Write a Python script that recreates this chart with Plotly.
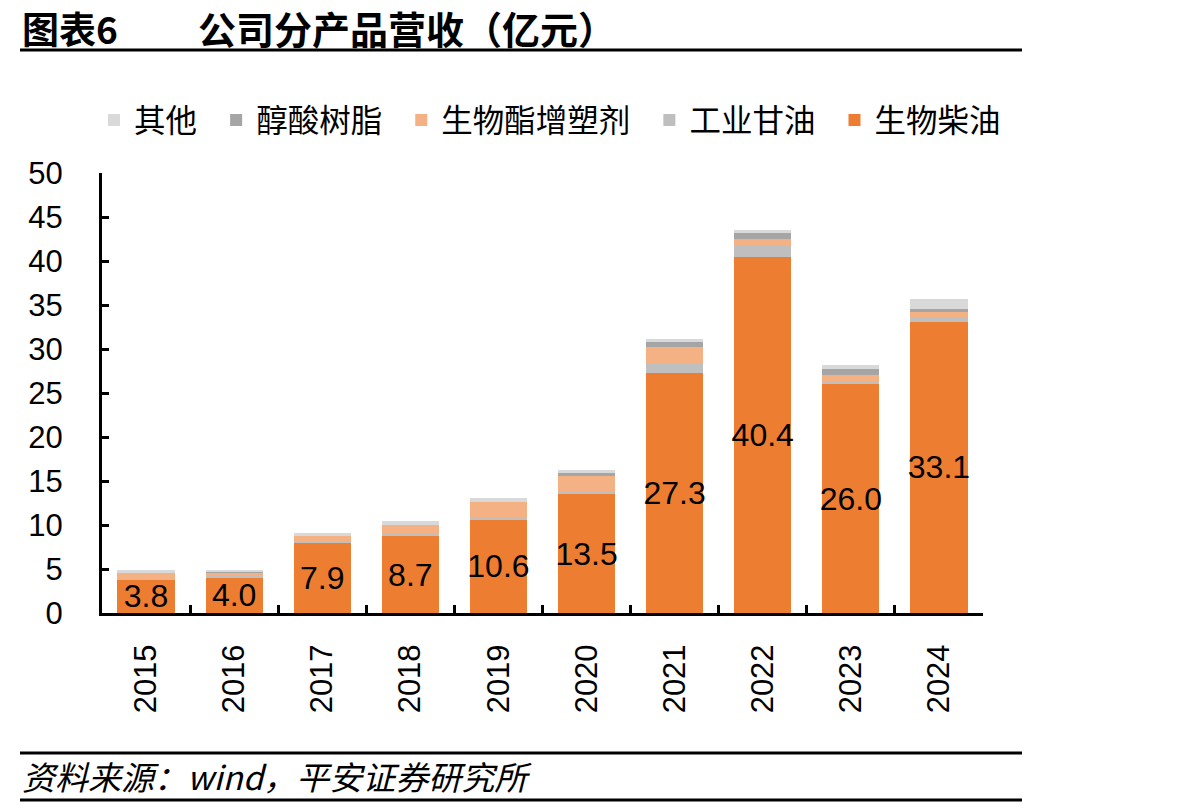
import plotly.graph_objects as go

years = ["2015", "2016", "2017", "2018", "2019", "2020", "2021", "2022", "2023", "2024"]
biodiesel = [3.8, 4.0, 7.9, 8.7, 10.6, 13.5, 27.3, 40.4, 26.0, 33.1]
glycerin = [0.05, 0.25, 0.3, 0.35, 0.35, 0.35, 1.1, 1.35, 0.38, 0.4]
plasticizer = [0.65, 0.3, 0.6, 1.0, 1.7, 1.75, 1.8, 0.75, 0.7, 0.7]
alkyd = [0.0, 0.1, 0.0, 0.0, 0.0, 0.3, 0.6, 0.7, 0.65, 0.4]
other = [0.35, 0.25, 0.3, 0.4, 0.4, 0.3, 0.35, 0.35, 0.4, 1.1]

series = [
    ("生物柴油", biodiesel, "#ED7D31"),
    ("工业甘油", glycerin, "#BFBFBF"),
    ("生物酯增塑剂", plasticizer, "#F4B183"),
    ("醇酸树脂", alkyd, "#A5A5A5"),
    ("其他", other, "#D9D9D9"),
]

FONT = "Arial, Liberation Sans, Noto Sans CJK SC, sans-serif"
CJK = "Noto Sans CJK SC, sans-serif"

fig = go.Figure()
for name, vals, color in series:
    kw = {}
    if name == "生物柴油":
        kw = dict(
            text=[f"{v:.1f}" for v in vals],
            textposition="inside",
            insidetextanchor="middle",
            textangle=0,
            constraintext="none",
            textfont=dict(size=32, color="black", family=FONT),
        )
    fig.add_trace(go.Bar(x=years, y=vals, name=name + "\u00a0\u00a0",
                         marker=dict(color=color, line=dict(width=0)), **kw))

L, R, T, B = 102, 983, 173, 613
W, H = R - L, B - T


def px(x):
    return (x - L) / W


def py(y):
    return (B - y) / H


fig.update_layout(
    width=1192, height=808,
    margin=dict(l=L, r=1192 - R, t=T, b=808 - B, pad=0),
    barmode="stack", bargap=0.35,
    plot_bgcolor="white", paper_bgcolor="white",
    font=dict(family=FONT, size=30, color="black"),
    showlegend=True,
    legend=dict(
        orientation="h", traceorder="reversed",
        x=px(94), xanchor="left", y=py(120), yanchor="middle",
        font=dict(family=CJK, size=31.5, color="black"),
        itemsizing="constant",
    ),
    xaxis=dict(
        type="category", showline=True, linecolor="black", linewidth=3,
        ticks="inside", tickson="boundaries", ticklen=8, tickwidth=3, tickcolor="black",
        tickangle=-90, tickfont=dict(size=31, family=FONT), ticklabelstandoff=16,
        showgrid=False, zeroline=False,
    ),
    yaxis=dict(
        range=[0, 50], dtick=5, showline=True, linecolor="black", linewidth=3,
        ticks="inside", ticklen=7, tickwidth=3, tickcolor="black",
        tickfont=dict(size=31, family=FONT), ticklabelstandoff=30,
        showgrid=False, zeroline=False,
    ),
    shapes=[
        dict(type="line", xref="paper", yref="paper", x0=px(20), x1=px(1022), y0=py(50), y1=py(50),
             line=dict(color="black", width=3)),
        dict(type="line", xref="paper", yref="paper", x0=px(20), x1=px(1022), y0=py(753), y1=py(753),
             line=dict(color="black", width=3)),
        dict(type="line", xref="paper", yref="paper", x0=px(20), x1=px(1022), y0=py(800), y1=py(800),
             line=dict(color="black", width=3)),
    ],
    annotations=[
        dict(text="<b>图表6</b>", xref="paper", yref="paper", x=px(20), y=py(28), xanchor="left",
             yanchor="middle", showarrow=False, font=dict(family=CJK, size=37, color="black")),
        dict(text="<b>公司分产品营收（亿元）</b>", xref="paper", yref="paper", x=px(196), y=py(28), xanchor="left",
             yanchor="middle", showarrow=False, font=dict(family=CJK, size=38, color="black")),
        dict(text="<i>资料来源：wind，平安证券研究所</i>", xref="paper", yref="paper", x=px(20), y=py(776),
             xanchor="left", yanchor="middle", showarrow=False, font=dict(family=CJK, size=33, color="black")),
    ],
)

fig.write_html("out.html")
